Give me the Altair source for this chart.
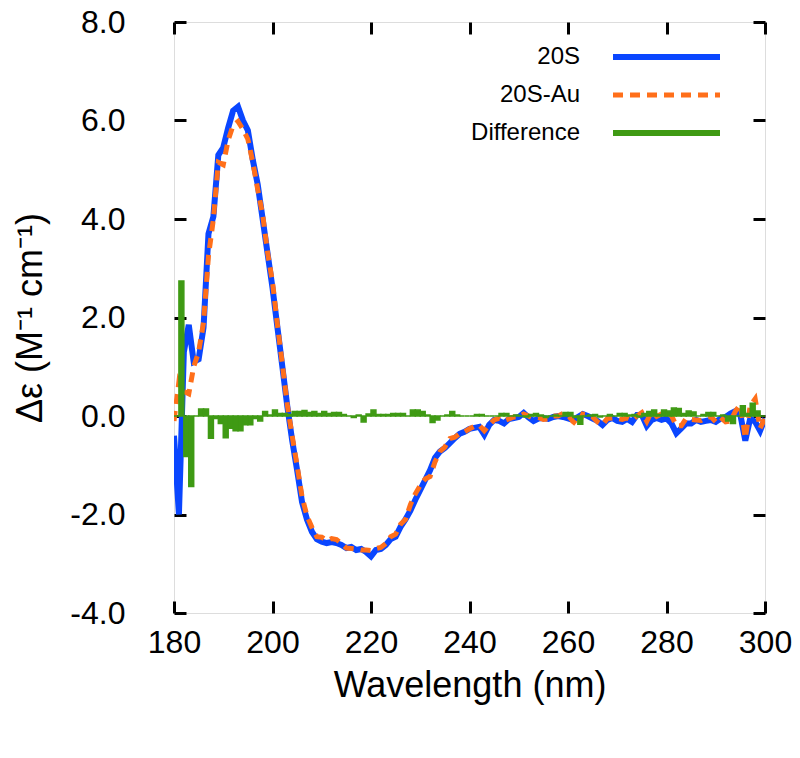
import altair as alt
import pandas as pd

wavelength = list(range(180, 301))

cd_20s = [
    -0.40, -2.00, 1.30, 1.85, 1.10, 1.15, 1.80, 3.70, 4.05, 5.30,
    5.45, 5.85, 6.20, 6.28, 6.00, 5.80, 5.20, 4.70, 4.00, 3.30,
    2.60, 1.80, 1.00, 0.20, -0.50, -1.10, -1.75, -2.10, -2.35, -2.50,
    -2.55, -2.58, -2.56, -2.58, -2.62, -2.68, -2.66, -2.72, -2.70, -2.76,
    -2.85, -2.72, -2.70, -2.62, -2.50, -2.45, -2.25, -2.10, -1.92, -1.70,
    -1.50, -1.30, -1.10, -0.85, -0.72, -0.65, -0.55, -0.45, -0.36, -0.32,
    -0.26, -0.24, -0.22, -0.38, -0.18, -0.08, -0.10, -0.15, -0.06, -0.04,
    -0.02, 0.06, -0.03, -0.10, -0.05, -0.04, -0.06, -0.02, 0.00, -0.02,
    -0.05, -0.08, -0.02, 0.04, 0.00, -0.05, -0.10, -0.18, -0.08, -0.04,
    -0.10, -0.12, -0.06, -0.12, 0.02, 0.02, -0.20, -0.08, -0.04, -0.08,
    -0.05, -0.15, -0.35, -0.25, -0.15, -0.15, -0.08, -0.12, -0.10, -0.08,
    -0.12, -0.05, -0.02, 0.05, 0.10, 0.02, -0.50, -0.05, -0.12, -0.30,
    -0.05,
]

cd_20s_au = [
    -0.10, 0.70, 0.50, 0.45, 1.00, 1.30, 1.90, 3.25, 4.00, 5.15,
    5.10, 5.60, 5.90, 5.98, 5.82, 5.62, 5.15, 4.60, 4.09, 3.32,
    2.72, 1.85, 1.05, 0.23, -0.41, -1.01, -1.64, -2.03, -2.26, -2.45,
    -2.46, -2.53, -2.49, -2.51, -2.59, -2.68, -2.69, -2.70, -2.72, -2.72,
    -2.73, -2.69, -2.67, -2.59, -2.45, -2.40, -2.20, -2.10, -1.80, -1.58,
    -1.41, -1.28, -1.23, -0.93, -0.72, -0.63, -0.46, -0.43, -0.36, -0.32,
    -0.26, -0.21, -0.19, -0.30, -0.18, -0.08, -0.05, -0.10, -0.06, -0.02,
    -0.02, 0.04, 0.00, -0.05, -0.03, -0.07, -0.06, 0.00, 0.00, 0.05,
    0.02, -0.11, -0.19, 0.04, 0.02, -0.02, -0.12, -0.18, -0.05, -0.04,
    -0.05, -0.07, -0.04, -0.09, 0.00, 0.07, -0.11, 0.10, -0.01, 0.04,
    0.05, 0.01, -0.20, -0.20, -0.05, -0.07, -0.08, -0.09, -0.03, -0.01,
    -0.12, -0.03, -0.12, -0.10, 0.10, 0.23, -0.45, 0.21, 0.35, -0.25,
    -0.05,
]

cd_diff = [
    0.00, 2.74, -0.82, -1.43, 0.00, 0.14, 0.14, -0.45, -0.05, -0.15,
    -0.44, -0.25, -0.30, -0.30, -0.18, -0.18, -0.05, -0.10, 0.09, 0.02,
    0.12, 0.05, 0.05, 0.03, 0.09, 0.09, 0.11, 0.07, 0.09, 0.05,
    0.09, 0.05, 0.07, 0.07, 0.03, 0.00, -0.03, 0.02, -0.12, 0.04,
    0.12, 0.03, 0.03, 0.03, 0.05, 0.05, 0.05, 0.00, 0.12, 0.12,
    0.09, 0.02, -0.13, -0.08, 0.00, 0.02, 0.09, 0.02, 0.00, 0.00,
    0.00, 0.03, 0.03, 0.00, 0.00, 0.00, 0.05, 0.05, 0.00, 0.02,
    0.00, -0.02, 0.03, 0.05, 0.02, -0.03, 0.00, 0.02, 0.00, 0.07,
    0.07, -0.03, -0.17, 0.00, 0.02, 0.03, -0.02, 0.00, 0.03, 0.00,
    0.05, 0.05, 0.02, 0.03, -0.02, 0.05, 0.09, 0.12, 0.03, 0.12,
    0.10, 0.16, 0.15, 0.05, 0.10, 0.08, 0.00, 0.03, 0.07, 0.07,
    0.00, 0.02, -0.10, -0.15, 0.00, 0.21, 0.05, 0.26, 0.10, 0.00,
    0.00,
]

series_names = ["20S", "20S-Au", "Difference"]
series_colors = ["#0a46ff", "#ff6f1a", "#3f9a14"]
x_ticks = [180, 200, 220, 240, 260, 280, 300]
y_ticks = [-4, -2, 0, 2, 4, 6, 8]

df = pd.DataFrame({"wl": wavelength, "s20": cd_20s, "au": cd_20s_au, "diff": cd_diff})
df["wl2"] = df["wl"] + 1

FONT = "Liberation Sans"
W = 591
H = 591

xscale = alt.Scale(domain=[180, 300], nice=False, zero=False)
yscale = alt.Scale(domain=[-4, 8], nice=False, zero=False)

tick_common = dict(tickSize=12, tickWidth=3, tickColor="black", offset=-12,
                   domain=False, grid=False)

x_bottom = alt.Axis(orient="bottom", values=x_ticks, labelPadding=14,
                    labelFontSize=32, labelFont=FONT, labelColor="black",
                    labelFlush=False, labelOverlap=False,
                    title="Wavelength (nm)", titleFont=FONT, titleFontSize=36,
                    titleFontWeight="normal", titleColor="black", titlePadding=10,
                    **tick_common)
y_left = alt.Axis(orient="left", values=y_ticks, labelPadding=49,
                  labelFontSize=32, labelFont=FONT, labelColor="black",
                  labelFlush=False, labelOverlap=False,
                  labelExpr="(datum.value < 0 ? '-' : '') + format(abs(datum.value), '.1f')",
                  title="Δε (M⁻¹ cm⁻¹)", titleFont=FONT, titleFontSize=36,
                  titleFontWeight="normal", titleColor="black", titlePadding=20,
                  **tick_common)
x_top = alt.Axis(orient="top", values=x_ticks, labels=False, title=None, **tick_common)
y_right = alt.Axis(orient="right", values=y_ticks, labels=False, title=None, **tick_common)

base = alt.Chart(df)

blue = base.mark_line(color=series_colors[0], strokeWidth=6, clip=True).encode(
    x=alt.X("wl:Q", scale=xscale, axis=x_bottom),
    y=alt.Y("s20:Q", scale=yscale, axis=y_left),
)
orange = base.mark_line(color=series_colors[1], strokeWidth=5, strokeDash=[10, 7], clip=True).encode(
    x=alt.X("wl:Q", scale=xscale, axis=x_top),
    y=alt.Y("au:Q", scale=yscale, axis=y_right),
)
green = base.mark_bar(color=series_colors[2], stroke=series_colors[2], strokeWidth=1.5, clip=True).encode(
    x=alt.X("wl:Q", scale=xscale, axis=None),
    x2="wl2:Q",
    y=alt.Y("diff:Q", scale=yscale, axis=None),
    y2=alt.datum(0),
)

leg_df = pd.DataFrame({"name": series_names, "color": series_colors})
leg_rows = [35, 73, 111]
legend_layers = []
for i, nm in enumerate(series_names):
    sub = alt.Chart(leg_df.iloc[[i]])
    legend_layers.append(
        sub.mark_text(align="right", baseline="middle", font=FONT, fontSize=24, color="black").encode(
            x=alt.value(406), y=alt.value(leg_rows[i]), text="name:N"
        )
    )
    rule_kwargs = dict(color=series_colors[i], strokeWidth=6 if i != 1 else 5)
    if i == 1:
        rule_kwargs["strokeDash"] = [10, 7]
    legend_layers.append(
        sub.mark_rule(**rule_kwargs).encode(
            x=alt.value(439), x2=alt.value(546), y=alt.value(leg_rows[i])
        )
    )

chart = alt.layer(blue, orange, green, *legend_layers).resolve_axis(
    x="independent", y="independent"
).properties(
    width=W, height=H,
    autosize=alt.AutoSizeParams(type="none"),
    padding={"left": 166, "top": 14, "right": 27, "bottom": 130},
).configure_view(
    stroke="black", strokeWidth=3
).configure(background="white")

chart.save("out.html", embed_options={"renderer": "svg", "actions": False})
